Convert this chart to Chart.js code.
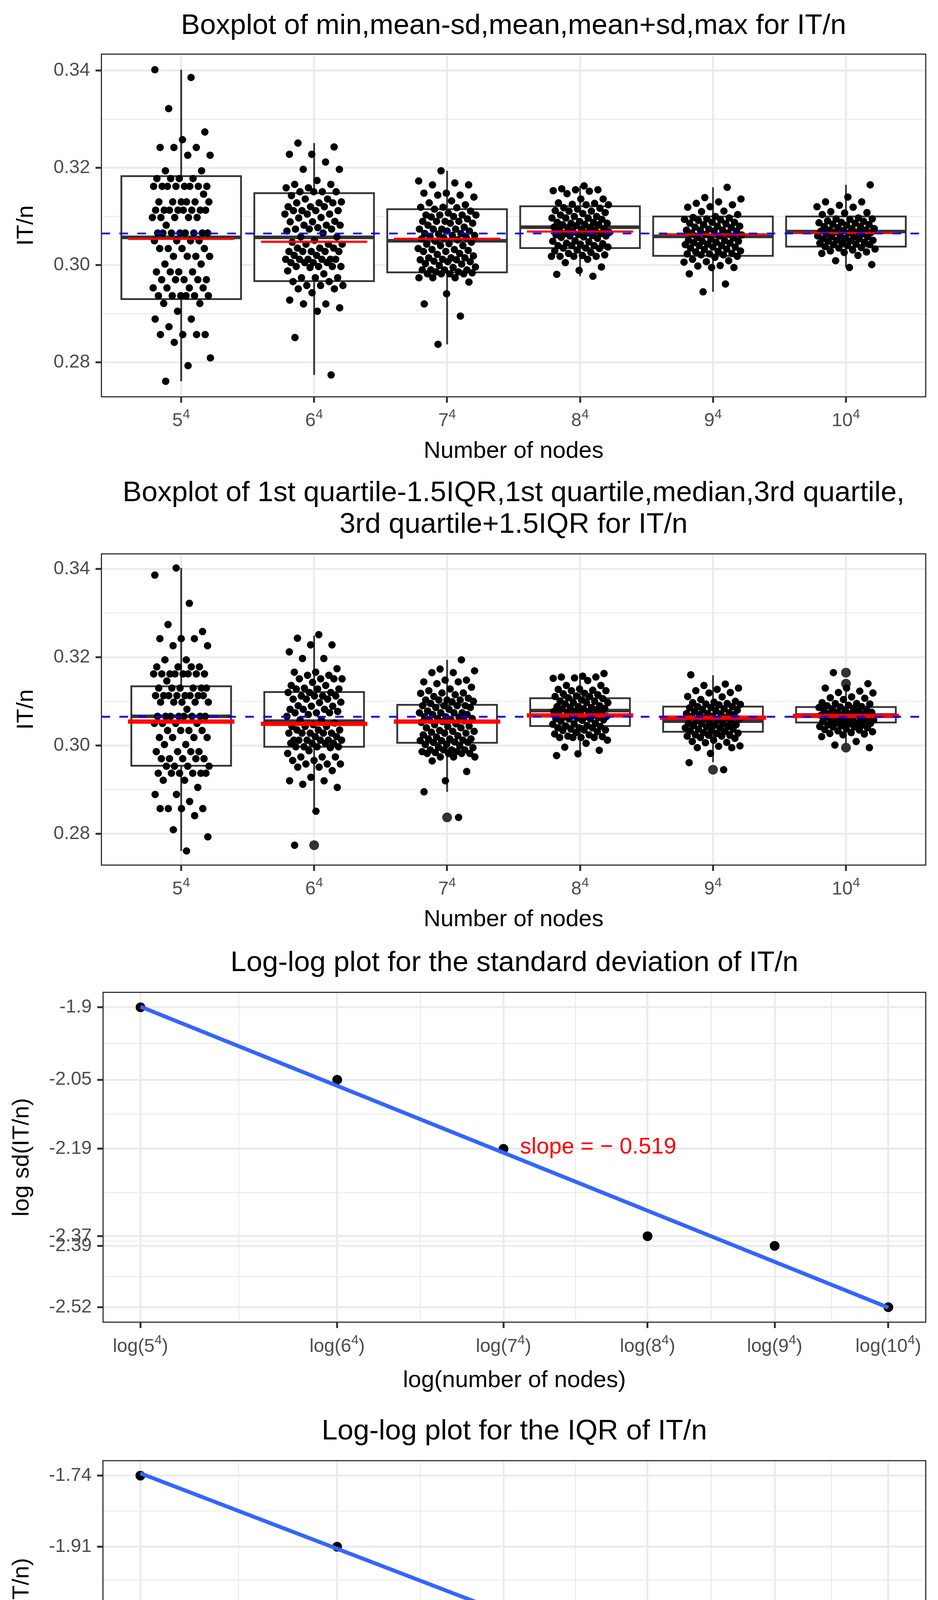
<!DOCTYPE html>
<html><head><meta charset="utf-8">
<script src="https://cdn.jsdelivr.net/npm/chart.js"></script>
<style>
html,body{margin:0;padding:0;background:#fff;}
#wrap{position:relative;width:2400px;height:4800px;background:#fff;}
canvas{position:absolute;left:0;}
</style>
</head><body><div id="wrap">
<canvas id="c1" width="2400" height="1200" style="top:0px;width:2400px;height:1200px"></canvas>
<canvas id="c2" width="2400" height="1220" style="top:1200px;width:2400px;height:1220px"></canvas>
<canvas id="c3" width="2400" height="1180" style="top:2420px;width:2400px;height:1180px"></canvas>
<canvas id="c4" width="2400" height="1200" style="top:3600px;width:2400px;height:1200px"></canvas>
</div>
<script>
// ---------------- DATA ----------------
const catBase = ['5','6','7','8','9','10'];   // number of nodes = base^4
const catExp = '4';

const vals5 = [0.3402,0.3386,0.3322,0.3274,0.3258,0.3242,0.3242,0.3242,0.3226,0.3226,
0.3194,0.3194,0.3178,0.3178,0.3178,0.3178,0.3162,0.3162,0.3162,0.3162,0.3162,0.3162,0.3162,0.3162,
0.3146,0.3130,0.3130,0.3130,0.3130,0.3130,0.3130,0.3113,0.3113,0.3113,0.3113,0.3113,0.3113,0.3113,0.3113,
0.3098,0.3098,0.3098,0.3098,0.3098,0.3082,0.3066,0.3066,0.3066,0.3066,0.3066,0.3066,0.3066,0.3066,
0.3050,0.3050,0.3050,0.3050,0.3034,0.3034,0.3034,0.3034,0.3018,0.3018,0.3018,0.3018,0.3002,0.3002,
0.2986,0.2986,0.2986,0.2986,0.2970,0.2970,0.2970,0.2970,0.2970,0.2953,0.2953,0.2953,0.2953,
0.2937,0.2937,0.2937,0.2937,0.2937,0.2937,0.2921,0.2921,0.2905,0.2889,0.2889,0.2873,
0.2857,0.2857,0.2857,0.2857,0.2841,0.2809,0.2793,0.2761];
const vals6 = [0.3251,0.3243,0.3228,0.3228,0.3212,0.3197,0.3197,0.3174,0.3166,0.3166,
0.3159,0.3159,0.3151,0.3151,0.3151,0.3151,0.3143,0.3136,0.3136,0.3130,0.3128,0.3128,0.3128,0.3120,0.3120,0.3120,
0.3112,0.3112,0.3112,0.3112,0.3105,0.3105,0.3105,0.3098,0.3097,0.3090,0.3089,0.3089,0.3082,0.3082,
0.3082,0.3077,0.3074,0.3074,0.3074,0.3070,0.3066,0.3058,0.3058,0.3051,0.3047,0.3043,0.3043,0.3043,
0.3035,0.3035,0.3035,0.3028,0.3028,0.3028,0.3028,0.3028,0.3020,0.3020,0.3012,0.3012,0.3012,0.3012,0.3012,0.3012,
0.3005,0.3005,0.3005,0.3005,0.2997,0.2997,0.2997,0.2997,0.2995,0.2988,0.2982,0.2974,0.2974,0.2974,
0.2966,0.2966,0.2958,0.2958,0.2958,0.2951,0.2951,0.2943,0.2928,0.2920,0.2920,0.2912,0.2905,0.2851,0.2774];
const vals7 = [0.3194,0.3173,0.3169,0.3165,0.3165,0.3148,0.3148,0.3144,0.3144,0.3140,
0.3132,0.3128,0.3124,0.3119,0.3119,0.3118,0.3115,0.3111,0.3107,0.3103,0.3103,0.3103,0.3103,0.3100,0.3099,0.3095,
0.3090,0.3090,0.3090,0.3090,0.3086,0.3086,0.3082,0.3078,0.3074,0.3074,0.3074,0.3074,0.3070,0.3070,
0.3065,0.3065,0.3064,0.3061,0.3061,0.3059,0.3057,0.3056,0.3054,0.3052,0.3049,0.3047,0.3044,0.3043,0.3040,0.3040,
0.3034,0.3032,0.3032,0.3030,0.3028,0.3028,0.3024,0.3022,0.3019,0.3015,0.3015,0.3015,0.3012,0.3011,
0.3011,0.3008,0.3007,0.3007,0.3003,0.3002,0.2999,0.2996,0.2995,0.2990,0.2990,0.2990,0.2990,0.2986,0.2986,
0.2984,0.2982,0.2982,0.2982,0.2982,0.2974,0.2974,0.2974,0.2965,0.2941,0.2920,0.2895,0.2837];
const vals8 = [0.3163,0.3157,0.3155,0.3155,0.3153,0.3152,0.3147,0.3136,0.3136,0.3128,
0.3127,0.3125,0.3124,0.3124,0.3118,0.3117,0.3115,0.3112,0.3111,0.3111,0.3108,0.3106,0.3103,0.3100,0.3100,
0.3097,0.3097,0.3097,0.3094,0.3090,0.3088,0.3088,0.3086,0.3086,0.3084,0.3083,0.3083,0.3081,0.3078,0.3077,
0.3077,0.3075,0.3073,0.3072,0.3070,0.3068,0.3067,0.3066,0.3065,0.3065,0.3063,0.3062,0.3061,0.3060,0.3060,
0.3058,0.3057,0.3055,0.3050,0.3049,0.3048,0.3045,0.3044,0.3043,0.3040,0.3040,0.3040,0.3037,0.3035,0.3035,
0.3034,0.3031,0.3029,0.3026,0.3024,0.3021,0.3020,0.3018,0.3018,0.3018,0.3018,0.3012,0.3005,0.2996,0.2989,0.2981,0.2977];
const vals9 = [0.3160,0.3139,0.3136,0.3130,0.3127,0.3124,0.3120,0.3119,0.3111,0.3110,
0.3104,0.3100,0.3098,0.3097,0.3095,0.3094,0.3093,0.3092,0.3088,0.3088,0.3086,0.3085,0.3083,0.3080,0.3080,
0.3078,0.3077,0.3074,0.3072,0.3072,0.3072,0.3070,0.3070,0.3066,0.3066,0.3063,0.3062,0.3060,0.3057,0.3056,
0.3053,0.3051,0.3050,0.3049,0.3049,0.3047,0.3046,0.3045,0.3043,0.3042,0.3040,0.3040,0.3037,0.3037,0.3035,
0.3033,0.3032,0.3029,0.3028,0.3027,0.3024,0.3023,0.3023,0.3021,0.3021,0.3018,0.3016,0.3012,0.3009,0.3007,
0.3006,0.2999,0.2998,0.2995,0.2995,0.2982,0.2961,0.2945];
const vals10 = [0.3165,0.3140,0.3130,0.3130,0.3123,0.3120,0.3119,0.3110,0.3108,0.3107,
0.3104,0.3097,0.3095,0.3095,0.3094,0.3091,0.3090,0.3088,0.3087,0.3086,0.3084,0.3083,0.3082,0.3079,0.3079,
0.3077,0.3075,0.3075,0.3072,0.3072,0.3071,0.3070,0.3068,0.3068,0.3067,0.3066,0.3064,0.3064,0.3061,0.3060,
0.3058,0.3058,0.3058,0.3055,0.3054,0.3054,0.3051,0.3051,0.3050,0.3049,0.3047,0.3046,0.3045,0.3043,0.3042,
0.3042,0.3040,0.3038,0.3036,0.3035,0.3033,0.3031,0.3029,0.3027,0.3026,0.3024,0.3020,0.3009,0.3001,0.2995];

// panel 1 box: min, mean-sd, mean, mean+sd, max ; red line
const p1Min  = [0.2761,0.2774,0.2837,0.2977,0.2945,0.2995];
const p1Lo   = [0.2930,0.2967,0.2985,0.3035,0.3019,0.3038];
const p1Mid  = [0.3057,0.3057,0.3050,0.3078,0.3059,0.3069];
const p1Hi   = [0.3183,0.3148,0.3115,0.3121,0.3100,0.3100];
const p1Max  = [0.3402,0.3251,0.3194,0.3163,0.3160,0.3165];
const p1Red  = [0.3054,0.3048,0.3054,0.3069,0.3063,0.3066];
// panel 2 box: Q1-1.5IQR, Q1, median, Q3, Q3+1.5IQR ; red line ; outliers
const p2Lower = [0.2761,0.2852,0.2895,0.2977,0.2962,0.3000];
const p2Q1    = [0.2954,0.2997,0.3006,0.3044,0.3031,0.3052];
const p2Med   = [0.3066,0.3055,0.3054,0.3079,0.3055,0.3069];
const p2Q3    = [0.3134,0.3121,0.3092,0.3107,0.3088,0.3087];
const p2Upper = [0.3402,0.3249,0.3194,0.3163,0.3159,0.3132];
const p2Red   = [0.3054,0.3049,0.3054,0.3068,0.3063,0.3067];
const p2Out   = [[],[0.2774],[0.2837],[],[0.2945],[0.3165,0.3140,0.2995]];
const overallMean = 0.3065;

const yTicksBox   = [0.28,0.29,0.30,0.31,0.32,0.33,0.34];
const yMajorBox   = [0.28,0.30,0.32,0.34];
const yLabelsBox  = ['0.28','0.30','0.32','0.34'];

// log-log panels
const logSd  = [-1.900,-2.050,-2.193,-2.374,-2.394,-2.521];
const sdLabels  = ['-1.9','-2.05','-2.19','-2.37','-2.39','-2.52'];
const logIqr = [-1.737,-1.908,-2.069,-2.216,-2.260,-2.459];
const iqrLabels = ['-1.74','-1.91','-2.07','-2.21','-2.26','-2.46'];
const slopeText3 = 'slope = \u2212 0.519';
const slopeText4 = 'slope = \u2212 0.566';

// ---------------- HELPERS ----------------
const FONT = "'Liberation Sans', Arial, Helvetica, sans-serif";
const W = 2400;
const groups = [vals5, vals6, vals7, vals8, vals9, vals10];
const logN = catBase.map(b => Math.log10(Math.pow(+b, +catExp)));

function jitter(j, seed, w){ const f = (j*0.6180339887498949 + seed) % 1; return (2*f - 1) * w; }
function isIn(list, v){ return v !== undefined && list.some(m => Math.abs(m - v) < 1e-9); }
function mids(a){ const r = []; for (let i = 0; i < a.length - 1; i++) r.push((a[i] + a[i+1]) / 2); return r; }
function padRange(arr){ const mn = Math.min(...arr), mx = Math.max(...arr), p = 0.05*(mx - mn); return [mn - p, mx + p]; }
function linfit(xs, ys){
  const n = xs.length, mx = xs.reduce((a,b)=>a+b,0)/n, my = ys.reduce((a,b)=>a+b,0)/n;
  let sxy = 0, sxx = 0; for (let i=0;i<n;i++){ sxy += (xs[i]-mx)*(ys[i]-my); sxx += (xs[i]-mx)*(xs[i]-mx); }
  const b = sxy/sxx; return {a: my - b*mx, b};
}
function drawSupLabel(ctx, prefix, base, sup, suffix, cx, by){
  const big = `48px ${FONT}`, small = `34px ${FONT}`;
  ctx.font = big; const wp = ctx.measureText(prefix).width, wb = ctx.measureText(base).width, wf = ctx.measureText(suffix).width;
  ctx.font = small; const ws = ctx.measureText(sup).width;
  let x = cx - (wp + wb + ws + wf) / 2;
  ctx.fillStyle = '#4D4D4D'; ctx.textAlign = 'left'; ctx.textBaseline = 'alphabetic';
  ctx.font = big; ctx.fillText(prefix, x, by); x += wp; ctx.fillText(base, x, by); x += wb;
  ctx.font = small; ctx.fillText(sup, x, by - 20); x += ws;
  ctx.font = big; ctx.fillText(suffix, x, by);
}
function yScale(min, max, ticks, majors, labels, leftPx){
  return {
    type: 'linear', min, max,
    afterBuildTicks: s => { s.ticks = ticks.map(v => ({value: v})); },
    afterFit: s => { s.width = leftPx; },
    ticks: { autoSkip: false, padding: 14, color: '#4D4D4D', font: {family: FONT, size: 48},
      callback: v => { const k = majors.findIndex(m => Math.abs(m - v) < 1e-9); return k >= 0 ? labels[k] : ''; } },
    grid: { color: '#EBEBEB', lineWidth: c => isIn(majors, c.tick && c.tick.value) ? 5 : 2.6,
      drawTicks: true, tickLength: 15, tickWidth: 5,
      tickColor: c => isIn(majors, c.tick && c.tick.value) ? '#333333' : 'rgba(0,0,0,0)' },
    border: { display: false }
  };
}
function xScale(min, max, ticks, majors, heightPx){
  return {
    type: 'linear', min, max,
    afterBuildTicks: s => { s.ticks = ticks.map(v => ({value: v})); },
    afterFit: s => { s.height = heightPx; },
    ticks: { display: false, autoSkip: false },
    grid: { color: '#EBEBEB', lineWidth: c => isIn(majors, c.tick && c.tick.value) ? 5 : 2.6,
      drawTicks: true, tickLength: 15, tickWidth: 5,
      tickColor: c => isIn(majors, c.tick && c.tick.value) ? '#333333' : 'rgba(0,0,0,0)' },
    border: { display: false }
  };
}
function textPlugin(lay, labelFn){
  return { id: 'texts', afterDraw(chart){
    const {ctx, chartArea: a, scales: {x}} = chart;
    ctx.save();
    const cx = (a.left + a.right) / 2;
    ctx.fillStyle = '#000'; ctx.textAlign = 'center'; ctx.textBaseline = 'alphabetic';
    ctx.font = `73px ${FONT}`;
    lay.titles.forEach(t => ctx.fillText(t.text, cx, t.y));
    ctx.font = `60px ${FONT}`;
    ctx.fillText(lay.xTitle, cx, lay.xTitleY);
    ctx.save(); ctx.translate(lay.yTitleX, (a.top + a.bottom) / 2); ctx.rotate(-Math.PI / 2);
    ctx.fillText(lay.yTitle, 0, 0); ctx.restore();
    labelFn(ctx, x, lay.xLabelY);
    ctx.restore();
  }};
}
function borderDraw(ctx, a){
  ctx.save(); ctx.strokeStyle = '#333333'; ctx.lineWidth = 3; ctx.setLineDash([]);
  ctx.strokeRect(a.left, a.top, a.right - a.left, a.bottom - a.top); ctx.restore();
}

// ---------------- BOX PANELS ----------------
const boxRange = padRange(groups.flat());
function makeBoxChart(id, lay, st){
  const pts = [];
  groups.forEach((g, i) => g.forEach((v, j) => pts.push({x: i + 1 + jitter(j, st.seed + 0.173*i, st.jw), y: v})));
  const boxPl = {
    id: 'boxes',
    beforeDatasetsDraw(chart){
      const {ctx, scales: {x, y}} = chart;
      ctx.save(); ctx.lineCap = 'butt'; ctx.setLineDash([]);
      catBase.forEach((c, i) => {
        const xc = x.getPixelForValue(i + 1);
        const hw = x.getPixelForValue(i + 1 + st.half) - xc;
        const yLo = y.getPixelForValue(st.lo[i]), yHi = y.getPixelForValue(st.hi[i]);
        ctx.strokeStyle = '#333333'; ctx.lineWidth = 4.6;
        ctx.beginPath();
        ctx.moveTo(xc, yHi); ctx.lineTo(xc, y.getPixelForValue(st.top[i]));
        ctx.moveTo(xc, yLo); ctx.lineTo(xc, y.getPixelForValue(st.bot[i]));
        ctx.stroke();
        ctx.fillStyle = '#ffffff';
        ctx.fillRect(xc - hw, yHi, 2*hw, yLo - yHi);
        ctx.strokeRect(xc - hw, yHi, 2*hw, yLo - yHi);
        ctx.lineWidth = 9.2;
        const ym = y.getPixelForValue(st.mid[i]);
        ctx.beginPath(); ctx.moveTo(xc - hw, ym); ctx.lineTo(xc + hw, ym); ctx.stroke();
        (st.out[i] || []).forEach(v => {
          ctx.fillStyle = '#333333'; ctx.beginPath();
          ctx.arc(xc, y.getPixelForValue(v), 12.5, 0, 2*Math.PI); ctx.fill();
        });
      });
      ctx.restore();
    },
    afterDatasetsDraw(chart){
      const {ctx, chartArea: a, scales: {x, y}} = chart;
      ctx.save(); ctx.lineCap = 'butt';
      ctx.strokeStyle = '#FF0000'; ctx.lineWidth = st.redW;
      catBase.forEach((c, i) => {
        const xl = x.getPixelForValue(i + 1 - 0.4), xr = x.getPixelForValue(i + 1 + 0.4);
        const yr = y.getPixelForValue(st.red[i]);
        ctx.beginPath(); ctx.moveTo(xl, yr); ctx.lineTo(xr, yr); ctx.stroke();
      });
      ctx.strokeStyle = '#0000FF'; ctx.lineWidth = 4.6; ctx.setLineDash([22, 24]);
      const yb = y.getPixelForValue(overallMean);
      ctx.beginPath(); ctx.moveTo(a.left, yb); ctx.lineTo(a.right, yb); ctx.stroke();
      ctx.restore();
      borderDraw(ctx, a);
    }
  };
  const labelFn = (ctx, x, by) => catBase.forEach((b, i) => drawSupLabel(ctx, '', b, catExp, '', x.getPixelForValue(i + 1), by));
  return new Chart(document.getElementById(id), {
    type: 'scatter',
    data: { datasets: [{ data: pts, pointRadius: 9.5, pointHoverRadius: 9.5, backgroundColor: '#000', borderWidth: 0 }] },
    options: {
      responsive: false, animation: false, devicePixelRatio: 1, events: [],
      layout: { padding: { left: 0, right: W - lay.right, top: lay.top, bottom: 0 } },
      plugins: { legend: { display: false }, tooltip: { enabled: false }, title: { display: false } },
      scales: {
        x: xScale(0.4, 6.6, catBase.map((c, i) => i + 1), catBase.map((c, i) => i + 1), lay.h - lay.bottom),
        y: yScale(boxRange[0], boxRange[1], yTicksBox, yMajorBox, yLabelsBox, lay.left)
      }
    },
    plugins: [boxPl, textPlugin(lay, labelFn)]
  });
}

makeBoxChart('c1',
  { h: 1200, left: 259.5, right: 2368.6, top: 138.6, bottom: 1015.8,
    titles: [{ text: 'Boxplot of min,mean-sd,mean,mean+sd,max for IT/n', y: 87 }],
    xTitle: 'Number of nodes', xTitleY: 1172, yTitle: 'IT/n', yTitleX: 84, xLabelY: 1091 },
  { lo: p1Lo, hi: p1Hi, mid: p1Mid, top: p1Max, bot: p1Min, red: p1Red, out: [], half: 0.45, redW: 5.7, seed: 0.05, jw: 0.22 });

makeBoxChart('c2',
  { h: 1220, left: 259.5, right: 2368.6, top: 217.9, bottom: 1014.6,
    titles: [{ text: 'Boxplot of 1st quartile-1.5IQR,1st quartile,median,3rd quartile,', y: 83 },
             { text: '3rd quartile+1.5IQR for IT/n', y: 164 }],
    xTitle: 'Number of nodes', xTitleY: 1171, yTitle: 'IT/n', yTitleX: 84, xLabelY: 1090 },
  { lo: p2Q1, hi: p2Q3, mid: p2Med, top: p2Upper, bot: p2Lower, red: p2Red, out: p2Out, half: 0.375, redW: 11, seed: 0.41, jw: 0.21 });

// ---------------- LOG-LOG PANELS ----------------
function makeLogChart(id, lay, yVals, yLabels, slopeText, ann){
  const xr = padRange(logN), yr = padRange(yVals);
  const ySorted = [...yVals].sort((a, b) => a - b);
  const yt = ySorted.concat(mids(ySorted));
  const xt = logN.concat(mids(logN));
  const fit = linfit(logN, yVals);
  const x0 = Math.min(...logN), x1 = Math.max(...logN);
  const annPl = { id: 'ann', afterDatasetsDraw(chart){
    const {ctx, chartArea: a, scales: {x, y}} = chart;
    ctx.save(); ctx.fillStyle = '#FF0000'; ctx.font = `58px ${FONT}`;
    ctx.textAlign = 'left'; ctx.textBaseline = 'middle';
    ctx.fillText(slopeText, x.getPixelForValue(ann.x), y.getPixelForValue(ann.y));
    ctx.restore();
    borderDraw(ctx, a);
  }};
  const labelFn = (ctx, x, by) => catBase.forEach((b, i) => drawSupLabel(ctx, 'log(', b, catExp, ')', x.getPixelForValue(logN[i]), by));
  return new Chart(document.getElementById(id), {
    type: 'scatter',
    data: { datasets: [
      { type: 'line', data: [{x: x0, y: fit.a + fit.b*x0}, {x: x1, y: fit.a + fit.b*x1}],
        borderColor: '#3366FF', borderWidth: 10, pointRadius: 0, fill: false, tension: 0, order: 0 },
      { type: 'scatter', data: logN.map((v, i) => ({x: v, y: yVals[i]})),
        pointRadius: 12.5, pointHoverRadius: 12.5, backgroundColor: '#000', borderWidth: 0, order: 1 }
    ]},
    options: {
      responsive: false, animation: false, devicePixelRatio: 1, events: [],
      layout: { padding: { left: 0, right: W - lay.right, top: lay.top, bottom: 0 } },
      plugins: { legend: { display: false }, tooltip: { enabled: false }, title: { display: false } },
      scales: {
        x: xScale(xr[0], xr[1], xt, logN, lay.h - lay.bottom),
        y: yScale(yr[0], yr[1], yt, yVals, yLabels, lay.left)
      }
    },
    plugins: [annPl, textPlugin(lay, labelFn)]
  });
}

makeLogChart('c3',
  { h: 1180, left: 263.8, right: 2368.6, top: 120.4, bottom: 964.8,
    titles: [{ text: 'Log-log plot for the standard deviation of IT/n', y: 66 }],
    xTitle: 'log(number of nodes)', xTitleY: 1131, yTitle: 'log sd(IT/n)', yTitleX: 73, xLabelY: 1041 },
  logSd, sdLabels, slopeText3, { x: 3.407, y: -2.19 });

makeLogChart('c4',
  { h: 1200, left: 263.4, right: 2368.6, top: 139.3, bottom: 984,
    titles: [{ text: 'Log-log plot for the IQR of IT/n', y: 85 }],
    xTitle: 'log(number of nodes)', xTitleY: 1152, yTitle: 'log IQR(IT/n)', yTitleX: 73, xLabelY: 1060 },
  logIqr, iqrLabels, slopeText4, { x: 3.407, y: -2.07 });
</script>
</body></html>
